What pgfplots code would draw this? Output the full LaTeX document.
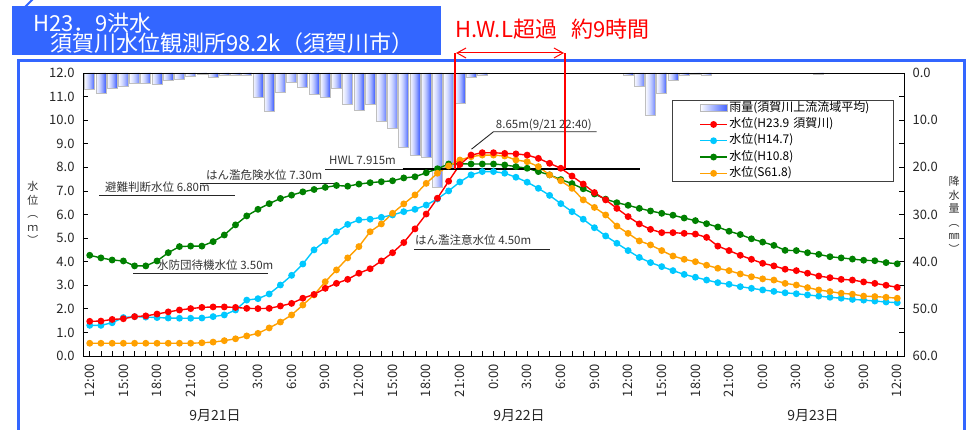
\documentclass[border=0pt]{standalone}
\usepackage{fontspec}
\setmainfont{Noto Sans CJK JP}
\usepackage{pgfplots}
\usepackage{pgfplotstable}
\pgfplotsset{compat=1.18}
\usetikzlibrary{arrows.meta}
\definecolor{frameblue}{RGB}{51,102,255}
\definecolor{lvred}{RGB}{255,0,0}
\definecolor{lvcyan}{RGB}{0,200,255}
\definecolor{lvgreen}{RGB}{0,128,0}
\definecolor{lvorange}{RGB}{255,160,0}
\definecolor{rainblue}{RGB}{70,100,255}

\pgfplotstableread{
h red cyan green orange
0 1.47 1.30 4.27 0.54
1 1.48 1.30 4.16 0.54
2 1.55 1.41 4.07 0.54
3 1.58 1.63 4.03 0.54
4 1.67 1.67 3.82 0.54
5 1.70 1.65 3.82 0.54
6 1.78 1.63 4.03 0.54
7 1.87 1.61 4.38 0.54
8 1.95 1.60 4.64 0.54
9 2.01 1.60 4.66 0.54
10 2.06 1.61 4.66 0.56
11 2.08 1.67 4.85 0.59
12 2.08 1.74 5.13 0.65
13 2.06 1.95 5.56 0.73
14 2.02 2.37 5.94 0.85
15 2.01 2.43 6.22 0.96
16 2.02 2.63 6.46 1.19
17 2.12 3.01 6.68 1.44
18 2.23 3.42 6.82 1.74
19 2.45 3.90 6.96 2.16
20 2.61 4.50 7.06 2.59
21 2.87 4.88 7.15 3.15
22 3.08 5.27 7.23 3.65
23 3.25 5.58 7.20 4.16
24 3.51 5.77 7.29 4.64
25 3.70 5.80 7.35 5.27
26 4.03 5.88 7.39 5.60
27 4.38 5.98 7.43 6.05
28 4.81 6.12 7.55 6.45
29 5.39 6.22 7.60 6.83
30 6.02 6.40 7.77 7.32
31 6.69 6.66 7.94 7.75
32 7.41 7.00 8.14 8.06
33 8.12 7.38 8.15 8.31
34 8.52 7.68 8.14 8.45
35 8.62 7.82 8.14 8.52
36 8.62 7.82 8.14 8.52
37 8.59 7.75 8.10 8.48
38 8.57 7.58 8.03 8.31
39 8.52 7.37 7.96 8.24
40 8.38 7.11 7.82 8.03
41 8.17 6.81 7.68 7.68
42 7.96 6.46 7.48 7.43
43 7.63 6.12 7.31 7.11
44 7.29 5.80 7.09 6.62
45 6.93 5.44 6.87 6.30
46 6.62 5.09 6.65 5.98
47 6.26 4.78 6.50 5.51
48 5.91 4.47 6.39 5.20
49 5.60 4.18 6.26 4.88
50 5.37 3.96 6.15 4.71
51 5.23 3.79 6.05 4.47
52 5.23 3.62 5.97 4.24
53 5.20 3.46 5.85 4.10
54 5.17 3.34 5.74 4.00
55 5.03 3.22 5.61 3.85
56 4.66 3.11 5.47 3.72
57 4.47 3.04 5.29 3.62
58 4.27 2.94 5.15 3.48
59 4.10 2.87 4.97 3.36
60 3.93 2.80 4.83 3.27
61 3.82 2.74 4.69 3.22
62 3.68 2.68 4.48 3.08
63 3.62 2.64 4.47 3.01
64 3.51 2.59 4.38 2.90
65 3.39 2.54 4.31 2.80
66 3.32 2.49 4.21 2.73
67 3.25 2.45 4.16 2.66
68 3.22 2.40 4.11 2.62
69 3.14 2.37 4.06 2.54
70 3.08 2.33 4.04 2.52
71 3.00 2.29 3.96 2.49
72 2.91 2.26 3.91 2.45
}\levels

\pgfplotstableread{
h rain
0 3.5
1 4.3
2 3.2
3 2.8
4 2.2
5 2.2
6 2.4
7 1.6
8 1.3
9 0.8
10 0.2
11 0.9
12 0.6
13 0.4
14 0.5
15 5.1
16 8.1
17 4.1
18 2.0
19 3.0
20 4.5
21 5.1
22 3.2
23 6.7
24 7.9
25 6.7
26 10.2
27 11.8
28 15.7
29 17.4
30 17.8
31 24.2
32 20.0
33 6.5
34 0.85
35 0.4
48 0.6
49 2.9
50 8.9
51 4.4
52 1.5
53 0.4
54 0.2
55 0.4
65 0.3
}\rain

\begin{document}
\begin{tikzpicture}
\useasboundingbox (-83pt,-74pt) rectangle (883pt,356pt);
% frame and title
\begin{scope}[x=1pt,y=1pt,shift={(-83pt,-74pt)}]
\draw[frameblue, line width=3pt] (18.3,-5) -- (18.3,369) -- (964.5,369) -- (964.5,-5);
\fill[frameblue] (12,375) rectangle (441,424);
\draw[frameblue, line width=2pt] (25,423) -- (33,431);
\node[anchor=base west, white, inner sep=0, font=\fontsize{22}{24}\selectfont] at (33,398) {H23．9洪水};
\node[anchor=base west, white, inner sep=0, font=\fontsize{22}{24}\selectfont] at (50,378) {須賀川水位観測所98.2k（須賀川市）};
\end{scope}

% rain axis (right, reversed)
\begin{axis}[width=821pt, height=283pt, scale only axis,
  xmin=-0.6, xmax=72.6, ymin=0, ymax=60, y dir=reverse,
  axis y line*=right, axis x line=none,
  ytick={0,10,...,60}, minor ytick={5,15,...,55},
  tick align=inside, major tick length=5pt, minor tick length=5pt,
  every tick/.style={black, line width=0.8pt},
  axis line style={black, line width=0.8pt},
  yticklabel style={/pgf/number format/.cd, fixed, fixed zerofill, precision=1},
  /pgf/number format/assume math mode=true,
  ticklabel shift=5pt,
  tick label style={font=\fontsize{13}{15}\selectfont, black!85},
  rainstrip/.style={ybar, bar width=1.05pt, draw=none},
]
% gradient of each bar: ten thin strips from light (left) to blue (right)
\addplot[rainstrip, bar shift=-4.5pt, fill=rainblue!4!white] table[x=h, y=rain] {\rain};
\addplot[rainstrip, bar shift=-3.5pt, fill=rainblue!10!white] table[x=h, y=rain] {\rain};
\addplot[rainstrip, bar shift=-2.5pt, fill=rainblue!16!white] table[x=h, y=rain] {\rain};
\addplot[rainstrip, bar shift=-1.5pt, fill=rainblue!24!white] table[x=h, y=rain] {\rain};
\addplot[rainstrip, bar shift=-0.5pt, fill=rainblue!32!white] table[x=h, y=rain] {\rain};
\addplot[rainstrip, bar shift=0.5pt, fill=rainblue!42!white] table[x=h, y=rain] {\rain};
\addplot[rainstrip, bar shift=1.5pt, fill=rainblue!53!white] table[x=h, y=rain] {\rain};
\addplot[rainstrip, bar shift=2.5pt, fill=rainblue!65!white] table[x=h, y=rain] {\rain};
\addplot[rainstrip, bar shift=3.5pt, fill=rainblue!79!white] table[x=h, y=rain] {\rain};
\addplot[rainstrip, bar shift=4.5pt, fill=rainblue!92!white] table[x=h, y=rain] {\rain};
\addplot[ybar, bar width=10pt, draw=gray!50, line width=0.7pt, fill=none] table[x=h, y=rain] {\rain};
\end{axis}

% water level axis
\begin{axis}[width=821pt, height=283pt, scale only axis,
  xmin=-0.6, xmax=72.6, ymin=0, ymax=12,
  xtick={0,3,...,72},
  xticklabels={12:00,15:00,18:00,21:00,0:00,3:00,6:00,9:00,12:00,15:00,18:00,21:00,0:00,3:00,6:00,9:00,12:00,15:00,18:00,21:00,0:00,3:00,6:00,9:00,12:00},
  minor xtick={0,1,...,72},
  ytick={0,1,...,12},
  xtick pos=left, ytick pos=left,
  tick align=inside, major tick length=5pt, minor tick length=5pt,
  every tick/.style={black, line width=0.8pt},
  axis line style={black, line width=0.8pt},
  xticklabel style={rotate=90, anchor=east},
  yticklabel style={/pgf/number format/.cd, fixed, fixed zerofill, precision=1},
  /pgf/number format/assume math mode=true,
  ticklabel shift=5pt,
  tick label style={font=\fontsize{13}{15}\selectfont, black!85},
  clip=false,
  legend image code/.code={\draw[mark repeat=2,mark phase=2,#1] plot coordinates {(0pt,0pt) (13.5pt,0pt) (27pt,0pt)};},
  legend style={at={(axis description cs:0.7174,0.9046)}, anchor=north west,
    draw=black!75, line width=0.8pt, fill=white, inner xsep=27pt, inner ysep=1.5pt, row sep=3.8pt,
    font=\fontsize{12}{14}\selectfont,
    nodes={inner xsep=1.5pt, inner ysep=0pt, text height=9.5pt, text depth=3pt, text width=136pt}},
  legend cell align=left,
]
\addlegendimage{legend image code/.code={\draw[draw=gray!55, line width=0.6pt, left color=white, right color=rainblue] (0pt,-3.5pt) rectangle (27pt,3.5pt);}}
\addlegendimage{lvred, line width=1.4pt, mark=*, mark size=2.7pt}
\addlegendimage{lvcyan, line width=1.4pt, mark=*, mark size=2.7pt}
\addlegendimage{lvgreen, line width=1.4pt, mark=*, mark size=2.7pt}
\addlegendimage{lvorange, line width=1.4pt, mark=*, mark size=2.7pt}

\addplot[forget plot, lvgreen, line width=1.4pt, mark=*, mark size=2.7pt] table[x=h, y=green] {\levels};
\addplot[forget plot, lvcyan, line width=1.4pt, mark=*, mark size=2.7pt] table[x=h, y=cyan] {\levels};
\addplot[forget plot, lvorange, line width=1.4pt, mark=*, mark size=2.7pt] table[x=h, y=orange] {\levels};
\addplot[forget plot, lvred, line width=1.4pt, mark=*, mark size=2.7pt] table[x=h, y=red] {\levels};

\legend{雨量(須賀川上流流域平均), 水位(H23.9 須賀川), 水位(H14.7), 水位(H10.8), 水位(S61.8)}

% reference levels
\tikzset{lvl/.style={black!85, line width=0.9pt}, lvltxt/.style={anchor=west, inner sep=0, black!80, font=\fontsize{11.5}{13}\selectfont}}
\draw[lvl] (axis cs:0.83,6.8) -- (axis cs:12.95,6.8);
\node[lvltxt] at (axis cs:1.36,7.14) {避難判断水位 6.80m};
\draw[lvl] (axis cs:9.83,7.3) -- (axis cs:22.05,7.3);
\node[lvltxt] at (axis cs:10.37,7.65) {はん濫危険水位 7.30m};
\draw[lvl] (axis cs:20.98,7.915) -- (axis cs:27.9,7.915);
\draw[black, line width=2.2pt] (axis cs:27.9,7.915) -- (axis cs:49.1,7.915);
\node[lvltxt] at (axis cs:21.33,8.31) {HWL 7.915m};
\draw[lvl] (axis cs:3.86,3.5) -- (axis cs:15.89,3.5);
\node[lvltxt] at (axis cs:6.0,3.86) {水防団待機水位 3.50m};
\draw[lvl] (axis cs:28.9,4.5) -- (axis cs:41.0,4.5);
\node[lvltxt] at (axis cs:29.0,4.92) {はん濫注意水位 4.50m};
\draw[lvl] (axis cs:34.04,8.77) -- (axis cs:36.0,9.51) -- (axis cs:45.2,9.51);
\node[lvltxt] at (axis cs:36.2,9.80) {8.65m(9/21 22:40)};
\end{axis}

\begin{scope}[x=1pt,y=1pt,shift={(-83pt,-74pt)}]
% HWL exceedance annotation
\draw[red, line width=2pt] (455,260.7) -- (455,377);
\draw[red, line width=2pt] (565,260.7) -- (565,377);
\draw[red, line width=1pt, {Straight Barb[length=9pt,width=10pt]}-{Straight Barb[length=9pt,width=10pt]}] (456,377) -- (564,377);
\node[red, anchor=west, inner sep=0, font=\fontsize{22}{24}\selectfont] at (455,401) {H.W.L超過\hspace{14pt}約9時間};
% axis titles
\node[align=center, inner sep=0, black!80, font=\fontsize{11}{13.5}\selectfont] at (33,217) {水\\位\\︵\\ｍ\\︶};
\node[align=center, inner sep=0, black!80, font=\fontsize{11}{13.5}\selectfont] at (954,215) {降\\水\\量\\︵\\㎜\\︶};
% date labels
\node[inner sep=0, black!85, font=\fontsize{14}{16}\selectfont] at (215,14) {9月21日};
\node[inner sep=0, black!85, font=\fontsize{14}{16}\selectfont] at (519,14) {9月22日};
\node[inner sep=0, black!85, font=\fontsize{14}{16}\selectfont] at (813,14) {9月23日};
\end{scope}
\end{tikzpicture}
\end{document}
